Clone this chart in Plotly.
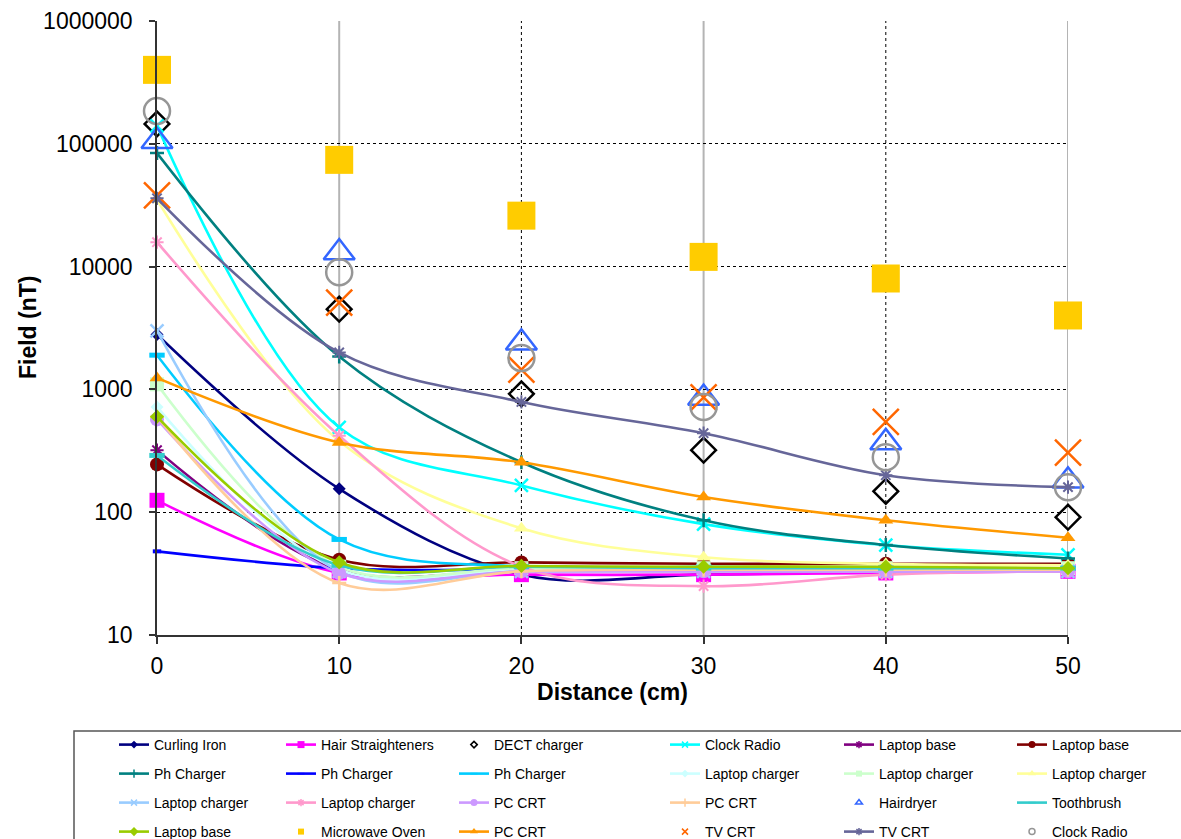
import plotly.graph_objects as go

# ---------------- data ----------------
distance = [0, 10, 20, 30, 40, 50]
x_ticks = [0, 10, 20, 30, 40, 50]
y_ticks = [10, 100, 1000, 10000, 100000, 1000000]
y_tick_text = ["10", "100", "1000", "10000", "100000", "1000000"]

curling_iron = [2800, 155, 31, 31, 33, 33]
hair_straighteners = [125, 32, 31, 31, 32, 33]
dect_charger = [145000, 4500, 920, 320, 148, 91]
clock_radio_line = [140000, 490, 165, 80, 54, 45]
laptop_base_purple = [320, 34, 34, 34, 34, 34]
laptop_base_red = [245, 41, 39, 38, 38, 38]
ph_charger_teal = [84000, 1850, 255, 86, 54, 42]
ph_charger_blue = [48, 35, 34, 34, 34, 34]
ph_charger_sky = [1900, 60, 36, 36, 35, 35]
laptop_charger_cyan = [720, 34, 34, 34, 34, 34]
laptop_charger_green = [1100, 36, 35, 35, 35, 35]
laptop_charger_yellow = [35000, 380, 74, 43, 38, 37]
laptop_charger_blue = [3000, 33, 33, 33, 33, 33]
laptop_charger_pink = [15800, 420, 36, 25, 31, 33]
pc_crt_lavender = [570, 32, 33, 33, 33, 33]
pc_crt_tan = [600, 26.5, 33, 34, 34, 34]
hairdryer = [105000, 13000, 2400, 850, 370, 180]
toothbrush = [290, 37, 36, 35, 35, 35]
laptop_base_green = [600, 39, 36.5, 36, 36, 35]
microwave_oven = [400000, 74000, 26000, 12000, 8000, 4000]
pc_crt_orange = [1240, 370, 255, 133, 86, 62]
tv_crt_x = [38000, 5100, 1450, 860, 545, 305]
tv_crt_line = [36000, 2000, 790, 440, 200, 160]
clock_radio_circle = [185000, 9000, 1800, 720, 280, 160]

# name, values, colour, mode, symbol, marker size, open-symbol line width, legend marker size
specs = [
    ("Curling Iron", curling_iron, "#000080", "lines+markers", "diamond", 10, 0, 6),
    ("Hair Straighteners", hair_straighteners, "#FF00FF", "lines+markers", "square", 15, 0, 7),
    ("DECT charger", dect_charger, "#000000", "markers", "diamond-open", 19, 2.5, 5),
    ("Clock Radio", clock_radio_line, "#00FFFF", "lines+markers", "x-thin-open", 13, 2.5, 6),
    ("Laptop base", laptop_base_purple, "#800080", "lines+markers", "asterisk-open", 11, 2, 6),
    ("Laptop base", laptop_base_red, "#800000", "lines+markers", "circle", 14, 0, 7),
    ("Ph Charger", ph_charger_teal, "#008080", "lines+markers", "cross-thin-open", 10, 2.5, 6),
    ("Ph Charger", ph_charger_blue, "#0000FF", "lines+markers", "line-ew-open", 6, 4, 5),
    ("Ph Charger", ph_charger_sky, "#00CCFF", "lines+markers", "line-ew-open", 11, 5, 5),
    ("Laptop charger", laptop_charger_cyan, "#CCFFFF", "lines+markers", "diamond", 10, 0, 6),
    ("Laptop charger", laptop_charger_green, "#CCFFCC", "lines+markers", "square", 14, 0, 6),
    ("Laptop charger", laptop_charger_yellow, "#FFFF99", "lines+markers", "triangle-up", 13, 0, 7),
    ("Laptop charger", laptop_charger_blue, "#99CCFF", "lines+markers", "x-thin-open", 13, 2.5, 6),
    ("Laptop charger", laptop_charger_pink, "#FF99CC", "lines+markers", "asterisk-open", 11, 2, 6),
    ("PC CRT", pc_crt_lavender, "#CC99FF", "lines+markers", "circle", 14, 0, 7),
    ("PC CRT", pc_crt_tan, "#FFCC99", "lines+markers", "cross-thin-open", 10, 2.5, 6),
    ("Hairdryer", hairdryer, "#3366FF", "markers", "triangle-up-open", 27, 2.5, 6),
    ("Toothbrush", toothbrush, "#33CCCC", "lines+markers", "line-ew-open", 11, 5, 5),
    ("Laptop base", laptop_base_green, "#99CC00", "lines+markers", "diamond", 11, 0, 7),
    ("Microwave Oven", microwave_oven, "#FFCC00", "markers", "square", 28, 0, 6),
    ("PC CRT", pc_crt_orange, "#FF9900", "lines+markers", "triangle-up", 13, 0, 7),
    ("TV CRT", tv_crt_x, "#FF6600", "markers", "x-thin-open", 26, 2.5, 6),
    ("TV CRT", tv_crt_line, "#666699", "lines+markers", "asterisk-open", 11, 2, 6),
    ("Clock Radio", clock_radio_circle, "#969696", "markers", "circle-open", 26, 2.5, 6),
]

FONT = "Liberation Sans, Arial, sans-serif"
W, H = 1181, 839
L, R, T, B = 157, 113, 21, 204

legend_text_x = [155, 322, 495, 706, 880, 1053]
legend_row_y = [745, 774, 803, 832]

solid_grid_x = [10, 30, 50]
dotted_grid_x = [20, 40]

fig = go.Figure()

# main traces
for name, vals, col, mode, sym, size, olw, _ in specs:
    kw = dict(x=distance, y=vals, name=name, mode=mode, showlegend=False,
              hoverinfo="x+y+name", cliponaxis=False)
    mk = dict(symbol=sym, size=size, color=col)
    mk["line"] = dict(width=olw, color=col) if olw else dict(width=0)
    kw["marker"] = mk
    if "lines" in mode:
        kw["line"] = dict(color=col, width=2.6, shape="spline", smoothing=1)
    fig.add_trace(go.Scatter(**kw))

# legend proxies (small markers like the original legend)
legend_layouts = {}
for i, (name, vals, col, mode, sym, size, olw, lsize) in enumerate(specs):
    lid = "legend" if i == 0 else f"legend{i + 1}"
    mk = dict(symbol=sym, size=lsize, color=col)
    mk["line"] = dict(width=min(olw, 1.5), color=col) if olw else dict(width=0)
    kw = dict(x=[None], y=[None], name=name, mode=mode, marker=mk, showlegend=True,
              legend=lid, hoverinfo="skip")
    if "lines" in mode:
        kw["line"] = dict(color=col, width=2.6)
    fig.add_trace(go.Scatter(**kw))
    r, c = divmod(i, 6)
    legend_layouts[lid] = dict(
        x=(legend_text_x[c] - 41) / W, y=1 - legend_row_y[r] / H,
        xref="container", yref="container", xanchor="left", yanchor="middle",
        bgcolor="rgba(0,0,0,0)", borderwidth=0, itemsizing="trace",
        font=dict(family=FONT, size=14, color="black"),
    )

# vertical gridlines
pw, ph = W - L - R, H - T - B
shapes = []
for gx in dotted_grid_x:
    shapes.append(dict(type="line", xref="x", yref="paper", x0=gx, x1=gx, y0=0, y1=1,
                       line=dict(color="black", width=1, dash="dot"), layer="below"))
for gx in solid_grid_x:
    shapes.append(dict(type="line", xref="x", yref="paper", x0=gx, x1=gx, y0=0, y1=1,
                       line=dict(color="#B4B4B4", width=2), layer="below"))
# legend frame
shapes.append(dict(type="rect", xref="paper", yref="paper",
                   x0=(74 - L) / pw, x1=(W + 5 - L) / pw,
                   y0=(H - B - (H + 5)) / ph, y1=(H - B - 731) / ph,
                   line=dict(color="#555555", width=1.5), fillcolor="rgba(0,0,0,0)", layer="above"))

fig.update_layout(
    width=W, height=H,
    margin=dict(l=L, r=R, t=T, b=B, autoexpand=False),
    paper_bgcolor="white", plot_bgcolor="white",
    font=dict(family=FONT, color="black"),
    shapes=shapes,
    annotations=[dict(text="<b>Field (nT)</b>", textangle=-90, xref="paper", yref="paper",
                      x=(28 - L) / pw, y=0.5, xanchor="center", yanchor="middle", showarrow=False,
                      font=dict(family=FONT, size=23, color="black"))],
    xaxis=dict(
        range=[0, 50], tickvals=x_ticks, showgrid=False, zeroline=False,
        showline=True, linecolor="#333333", linewidth=1.5,
        ticks="outside", ticklen=7, tickwidth=1.5, tickcolor="#333333",
        tickfont=dict(family=FONT, size=23, color="black"), ticklabelstandoff=3,
        tickangle=0,
        title=dict(text="<b>Distance (cm)</b>", font=dict(family=FONT, size=23, color="black"), standoff=6),
    ),
    yaxis=dict(
        type="log", range=[1, 6], tickvals=y_ticks, ticktext=y_tick_text,
        showgrid=True, gridcolor="black", gridwidth=1, griddash="dot", zeroline=False,
        showline=True, linecolor="#333333", linewidth=1.5,
        ticks="outside", ticklen=6, tickwidth=1.5, tickcolor="#333333",
        tickfont=dict(family=FONT, size=23, color="black"), ticklabelstandoff=12,
    ),
    **legend_layouts,
)

fig.write_html("out.html")
